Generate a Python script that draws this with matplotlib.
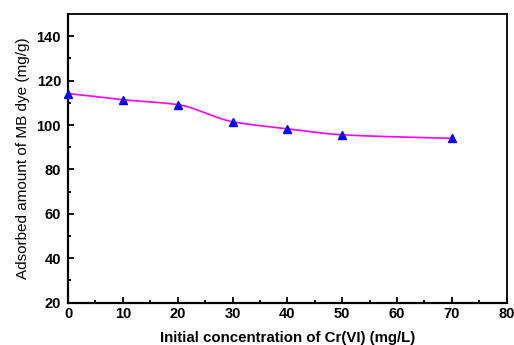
import numpy as np
import matplotlib
matplotlib.use("Agg")
import matplotlib.pyplot as plt
from matplotlib.ticker import MultipleLocator

conc = [0, 10, 20, 30, 40, 50, 70]
adsorbed = [114.2, 111.4, 109.2, 101.5, 98.3, 95.6, 94.0]

def pchip(x, y, n=300):
    x = np.asarray(x, float); y = np.asarray(y, float)
    h = np.diff(x); d = np.diff(y) / h
    m = len(x)
    s = np.zeros(m)
    for i in range(1, m - 1):
        if d[i - 1] * d[i] > 0:
            w1 = 2 * h[i] + h[i - 1]; w2 = h[i] + 2 * h[i - 1]
            s[i] = (w1 + w2) / (w1 / d[i - 1] + w2 / d[i])
    s[0] = d[0]; s[-1] = d[-1]
    xs = np.linspace(x[0], x[-1], n)
    ys = np.empty_like(xs)
    for k, xv in enumerate(xs):
        i = min(np.searchsorted(x, xv, side="right") - 1, m - 2)
        t = (xv - x[i]) / h[i]
        h00 = 2 * t**3 - 3 * t**2 + 1; h10 = t**3 - 2 * t**2 + t
        h01 = -2 * t**3 + 3 * t**2; h11 = t**3 - t**2
        ys[k] = h00 * y[i] + h10 * h[i] * s[i] + h01 * y[i + 1] + h11 * h[i] * s[i + 1]
    return xs, ys

plt.rcParams['font.family'] = ['Liberation Sans', 'DejaVu Sans']
fig = plt.figure(figsize=(5.14, 3.45), dpi=100)
ax = fig.add_axes([0.1323, 0.1226, 0.8535, 0.8368])

xs, ys = pchip(conc, adsorbed)
ax.plot(xs, ys, color='#ff00ff', lw=1.2, zorder=2)
ax.plot(conc, adsorbed, linestyle='none', marker='^', color='#0000ff', markersize=6, zorder=3, clip_on=False)

ax.set_xlim(0, 80)
ax.set_ylim(20, 150)
ax.xaxis.set_major_locator(MultipleLocator(10))
ax.xaxis.set_minor_locator(MultipleLocator(5))
ax.yaxis.set_major_locator(MultipleLocator(20))
ax.yaxis.set_minor_locator(MultipleLocator(10))
ax.tick_params(which='both', direction='in', top=False, right=False, width=1.3)
ax.tick_params(axis='x', which='major', length=4.5, labelsize=10.5, pad=3)
ax.tick_params(axis='y', which='major', length=4.5, labelsize=10.5, pad=5)
ax.tick_params(which='minor', length=2.5)
for lab in ax.get_xticklabels() + ax.get_yticklabels():
    lab.set_fontweight('bold')
for s in ax.spines.values():
    s.set_linewidth(1.3)
ax.spines['left'].set_linewidth(1.6)
ax.spines['bottom'].set_linewidth(1.6)

ax.set_xlabel('Initial concentration of Cr(VI) (mg/L)', fontsize=10.8, fontweight='bold', labelpad=7)
ax.set_ylabel('Adsorbed amount of MB dye (mg/g)', fontsize=11, labelpad=5)

fig.savefig('out.png', dpi=100)
